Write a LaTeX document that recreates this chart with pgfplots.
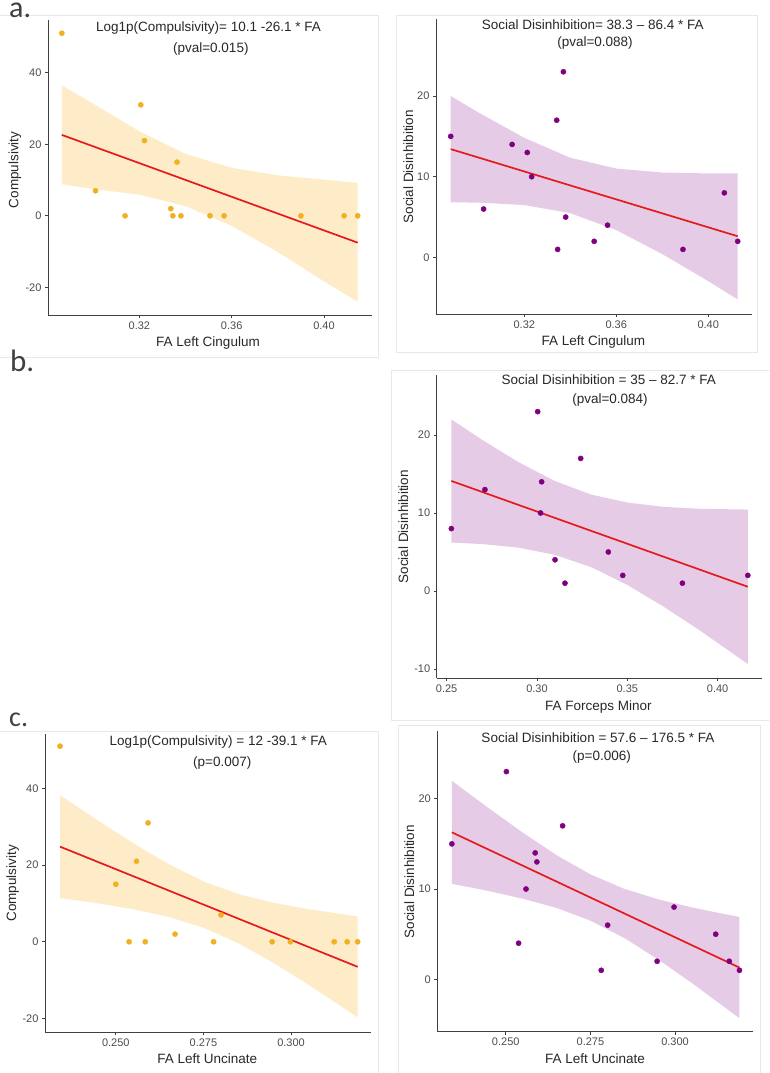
\documentclass[border=0pt]{standalone}
\usepackage{fontspec}
\setmainfont{Liberation Sans}
\newfontfamily\carlito{Carlito}
\usepackage{pgfplots}
\pgfplotsset{compat=1.18}
\definecolor{orangept}{RGB}{240,176,32}
\definecolor{orangeband}{RGB}{254,236,200}
\definecolor{purplept}{RGB}{128,0,128}
\definecolor{purpleband}{RGB}{230,203,230}
\definecolor{redline}{RGB}{228,26,28}
\definecolor{tickgray}{RGB}{77,77,77}
\definecolor{labgray}{RGB}{40,40,40}
\definecolor{framegray}{RGB}{232,232,232}
\definecolor{lettergray}{RGB}{64,64,64}
\pgfplotsset{
  panel/.style={
    scale only axis,
    axis x line=bottom, axis y line=left,
    axis line style={-, draw=black!75, line width=0.9pt},
    tick align=outside, major tick length=3pt,
    tick style={draw=black!75, line width=0.8pt},
    ticklabel style={font=\fontsize{11}{12}\selectfont, text=tickgray},
    /pgf/number format/assume math mode=true,
    clip=false,
  },
  pts/.style={only marks, mark=*, mark size=2.6pt},
  reg/.style={draw=redline, line width=1.7pt, no marks},
  band/.style={draw=none, no marks},
}
\newcommand{\tfont}{\fontsize{13.5}{15}\selectfont\color{labgray}}
\begin{document}
\begin{tikzpicture}[x=1pt,y=1pt]
\useasboundingbox (0,0) rectangle (769,1073);
\fill[white] (0,0) rectangle (769,1073);
\begin{scope}
\clip (0,0) rectangle (769,1073);
\draw[framegray, line width=0.8pt] (-2,716) rectangle (378,1058);
\draw[framegray, line width=0.8pt] (396,721) rectangle (757.7,1058);
\draw[framegray, line width=0.8pt] (391.7,353) rectangle (775,702.3);
\draw[framegray, line width=0.8pt] (-2,-2) rectangle (378,342);
\draw[framegray, line width=0.8pt] (398,-2) rectangle (760,347.3);
\end{scope}

% ---------- a left ----------
\begin{axis}[panel, at={(48pt,758pt)}, anchor=south west, width=324pt, height=295pt,
  xmin=0.2804, xmax=0.4208, ymin=-27.7, ymax=54.7,
  xtick={0.32,0.36,0.40}, xticklabels={0.32,0.36,0.40},
  ytick={-20,0,20,40}]
\addplot[band, fill=orangeband] coordinates {(0.2864,36.4) (0.30,31.3) (0.32,23.6) (0.34,17.3) (0.36,13.4) (0.38,11.3) (0.40,10.1) (0.4146,9.2)
  (0.4146,-24.0) (0.40,-18.3) (0.38,-10.1) (0.36,-2.8) (0.34,2.7) (0.32,5.9) (0.30,7.5) (0.2864,8.8)} -- cycle;
\addplot[reg] coordinates {(0.2864,22.6) (0.4146,-7.5)};
\addplot[pts, color=orangept] coordinates {(0.2864,51) (0.301,7) (0.3138,0) (0.3206,31) (0.3222,21) (0.3336,2) (0.3345,0) (0.3363,15) (0.338,0) (0.3506,0) (0.3567,0) (0.39,0) (0.4087,0) (0.4146,0)};
\end{axis}

% ---------- a right ----------
\begin{axis}[panel, at={(436pt,759pt)}, anchor=south west, width=315.7pt, height=294.7pt,
  xmin=0.2816, xmax=0.4189, ymin=-7.0, ymax=29.5,
  xtick={0.32,0.36,0.40}, xticklabels={0.32,0.36,0.40},
  ytick={0,10,20}]
\addplot[band, fill=purpleband] coordinates {(0.288,20.0) (0.30,17.96) (0.32,14.81) (0.34,12.35) (0.36,11.01) (0.38,10.52) (0.40,10.41) (0.4128,10.43)
  (0.4128,-5.2) (0.40,-2.93) (0.38,0.42) (0.36,3.39) (0.34,5.49) (0.32,6.49) (0.30,6.8) (0.288,6.82)} -- cycle;
\addplot[reg] coordinates {(0.288,13.42) (0.4128,2.63)};
\addplot[pts, color=purplept] coordinates {(0.288,15) (0.3023,6) (0.3147,14) (0.3213,13) (0.3232,10) (0.3341,17) (0.3345,1) (0.337,23) (0.338,5) (0.3504,2) (0.3562,4) (0.389,1) (0.407,8) (0.4128,2)};
\end{axis}

% ---------- b ----------
\begin{axis}[panel, at={(436.7pt,394.7pt)}, anchor=south west, width=325pt, height=303.3pt,
  xmin=0.2445, xmax=0.4244, ymin=-11.2, ymax=27.7,
  xtick={0.25,0.30,0.35,0.40}, xticklabels={0.25,0.30,0.35,0.40},
  ytick={-10,0,10,20}]
\addplot[band, fill=purpleband] coordinates {(0.2526,22.0) (0.27,19.33) (0.29,16.49) (0.31,14.09) (0.33,12.36) (0.35,11.34) (0.37,10.79) (0.39,10.54) (0.4167,10.44)
  (0.4167,-9.36) (0.39,-5.04) (0.37,-1.99) (0.35,0.78) (0.33,3.06) (0.31,4.63) (0.29,5.55) (0.27,6.01) (0.2526,6.21)} -- cycle;
\addplot[reg] coordinates {(0.2526,14.11) (0.4167,0.54)};
\addplot[pts, color=purplept] coordinates {(0.2526,8) (0.2712,13) (0.3004,23) (0.3026,14) (0.302,10) (0.31,4) (0.3155,1) (0.3242,17) (0.3395,5) (0.3475,2) (0.3805,1) (0.4167,2)};
\end{axis}

% ---------- c left ----------
\begin{axis}[panel, at={(45pt,40.7pt)}, anchor=south west, width=326pt, height=298pt,
  xmin=0.2298, xmax=0.3228, ymin=-23.6, ymax=54.1,
  xtick={0.25,0.275,0.30}, xticklabels={0.250,0.275,0.300},
  ytick={-20,0,20,40}]
\addplot[band, fill=orangeband] coordinates {(0.2341,38.2) (0.245,31.56) (0.255,25.69) (0.265,20.28) (0.275,15.74) (0.285,12.42) (0.295,10.17) (0.305,8.51) (0.315,7.15) (0.319,6.67)
  (0.319,-19.73) (0.315,-17.25) (0.305,-11.23) (0.295,-5.51) (0.285,-0.38) (0.275,3.68) (0.265,6.52) (0.255,8.49) (0.245,10.0) (0.2341,11.4)} -- cycle;
\addplot[reg] coordinates {(0.2341,24.8) (0.319,-6.53)};
\addplot[pts, color=orangept] coordinates {(0.2341,51) (0.25,15) (0.2538,0) (0.2559,21) (0.2584,0) (0.2592,31) (0.2669,2) (0.2779,0) (0.28,7) (0.2946,0) (0.2998,0) (0.3123,0) (0.316,0) (0.319,0)};
\end{axis}

% ---------- c right ----------
\begin{axis}[panel, at={(437.3pt,41.3pt)}, anchor=south west, width=316pt, height=300.7pt,
  xmin=0.2298, xmax=0.3231, ymin=-5.8, ymax=27.5,
  xtick={0.25,0.275,0.30}, xticklabels={0.250,0.275,0.300},
  ytick={0,10,20}]
\addplot[band, fill=purpleband] coordinates {(0.2341,21.98) (0.245,18.94) (0.255,16.25) (0.265,13.75) (0.275,11.62) (0.285,10.02) (0.295,8.86) (0.305,7.96) (0.315,7.19) (0.319,6.91)
  (0.319,-4.31) (0.315,-3.19) (0.305,-0.42) (0.295,2.2) (0.285,4.58) (0.275,6.5) (0.265,7.91) (0.255,8.93) (0.245,9.78) (0.2341,10.58)} -- cycle;
\addplot[reg] coordinates {(0.2341,16.28) (0.319,1.30)};
\addplot[pts, color=purplept] coordinates {(0.2341,15) (0.2502,23) (0.2538,4) (0.256,10) (0.2587,14) (0.2592,13) (0.2668,17) (0.2782,1) (0.2801,6) (0.2947,2) (0.2997,8) (0.312,5) (0.316,2) (0.319,1)};
\end{axis}

% ---------- titles ----------
\node[font=\tfont] at (208.5,1045) {Log1p(Compulsivity)= 10.1 -26.1 * FA};
\node[font=\tfont] at (210.8,1024) {(pval=0.015)};
\node[font=\tfont] at (592.7,1048.7) {Social Disinhibition= 38.3 – 86.4 * FA};
\node[font=\tfont] at (595,1029.7) {(pval=0.088)};
\node[font=\tfont] at (608.8,693) {Social Disinhibition = 35 – 82.7 * FA};
\node[font=\tfont] at (610,673) {(pval=0.084)};
\node[font=\tfont] at (218.3,330.7) {Log1p(Compulsivity) = 12 -39.1 * FA};
\node[font=\tfont] at (222.2,310.3) {(p=0.007)};
\node[font=\tfont] at (598,335.7) {Social Disinhibition = 57.6 – 176.5 * FA};
\node[font=\tfont] at (601.7,315.7) {(p=0.006)};

% ---------- axis labels ----------
\node[font=\tfont, rotate=90] at (15,903) {Compulsivity};
\node[font=\tfont, rotate=90] at (408.3,906.3) {Social Disinhibition};
\node[font=\tfont, rotate=90] at (403.3,546.3) {Social Disinhibition};
\node[font=\tfont, rotate=90] at (12.7,189.7) {Compulsivity};
\node[font=\tfont, rotate=90] at (409.3,191.3) {Social Disinhibition};
\node[font=\tfont] at (208,730) {FA Left Cingulum};
\node[font=\tfont] at (593.3,731.3) {FA Left Cingulum};
\node[font=\tfont] at (598.3,366.3) {FA Forceps Minor};
\node[font=\tfont] at (207.3,14) {FA Left Uncinate};
\node[font=\tfont] at (595,14) {FA Left Uncinate};

% ---------- panel letters ----------
\node[anchor=base west, inner sep=0pt, text=lettergray, font=\carlito\fontsize{30}{30}\selectfont] at (9,1055.5) {a.};
\node[anchor=base west, inner sep=0pt, text=lettergray, font=\carlito\fontsize{31}{31}\selectfont] at (10,701.3) {b.};
\node[anchor=base west, inner sep=0pt, text=lettergray, font=\carlito\fontsize{28}{28}\selectfont] at (9,346.3) {c.};
\end{tikzpicture}
\end{document}
